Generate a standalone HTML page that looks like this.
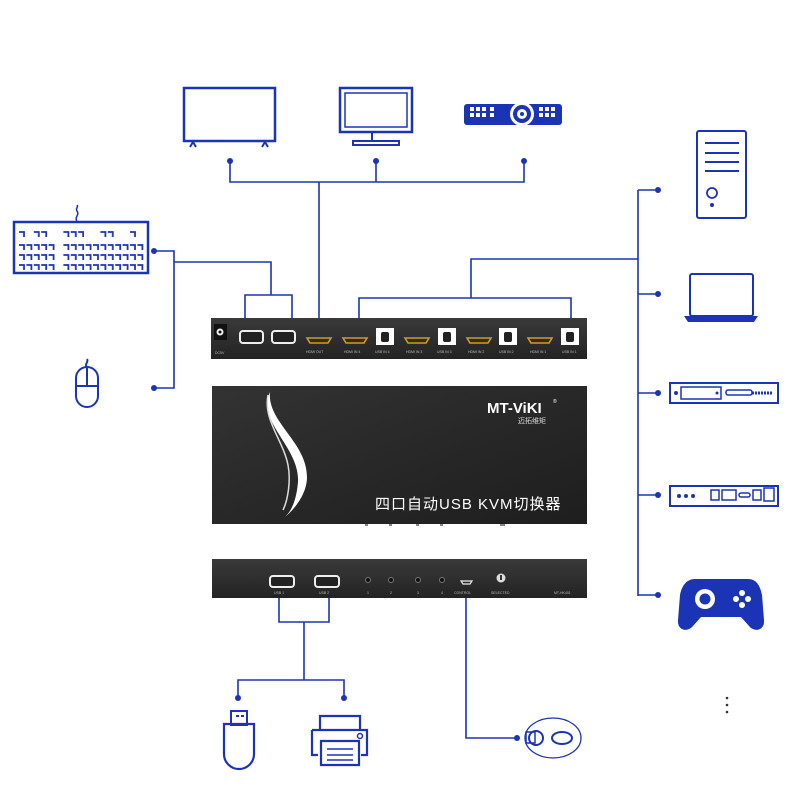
<!DOCTYPE html>
<html><head><meta charset="utf-8"><style>
html,body{margin:0;padding:0;background:#fff;}
svg{display:block;}
</style></head><body>
<svg width="800" height="800" viewBox="0 0 800 800" xmlns="http://www.w3.org/2000/svg">
<defs>
<linearGradient id="dk" x1="0" y1="0" x2="0" y2="1"><stop offset="0" stop-color="#3a3a3a"/><stop offset="1" stop-color="#232323"/></linearGradient>
<linearGradient id="dk2" x1="0" y1="0" x2="1" y2="1"><stop offset="0" stop-color="#333"/><stop offset="0.6" stop-color="#262626"/><stop offset="1" stop-color="#1e1e1e"/></linearGradient>
<pattern id="key" x="18" y="243" width="7.4" height="10" patternUnits="userSpaceOnUse">
<path d="M1 2h5v5" fill="none" stroke="#1b34b5" stroke-width="1.8"/>
</pattern>
<pattern id="key1" x="18" y="230" width="7.4" height="10" patternUnits="userSpaceOnUse">
<path d="M1 2h5v5" fill="none" stroke="#1b34b5" stroke-width="1.8"/>
</pattern>
</defs>
<g fill="none" stroke="#1b34b5" stroke-width="1.6">
<path d="M230 161V182H524V161M376 161V182M319 182V318"/>
<path d="M154 251H174V388H154M174 262H271V295M245 318V295H292V318"/>
<path d="M359 318V298H571V318M471 298V259H638M638 190V596M638 190H658M638 294H658M638 393H658M638 495H658M638 595H658"/>
<path d="M279 598V622H329V598M304 622V680M238 698V680H344V698M466 598V738H517"/>
</g>
<g fill="#1b34b5">
<circle cx="230" cy="161" r="3"/><circle cx="376" cy="161" r="3"/><circle cx="524" cy="161" r="3"/>
<circle cx="154" cy="251" r="3"/><circle cx="154" cy="388" r="3"/>
<circle cx="658" cy="190" r="3"/><circle cx="658" cy="294" r="3"/><circle cx="658" cy="393" r="3"/><circle cx="658" cy="495" r="3"/><circle cx="658" cy="595" r="3"/>
<circle cx="238" cy="698" r="3"/><circle cx="344" cy="698" r="3"/><circle cx="517" cy="738" r="3"/>
<circle cx="727" cy="698" r="1.3" fill="#333"/><circle cx="727" cy="705" r="1.3" fill="#333"/><circle cx="727" cy="712" r="1.3" fill="#333"/>
</g>
<g fill="none" stroke="#1b34b5" stroke-width="2.5">
<rect x="184" y="88" width="91" height="53"/>
<path d="M190 147l3-5 3 5M262 147l3-5 3 5" stroke-width="2"/>
<rect x="340" y="88" width="72" height="44"/><rect x="345" y="93" width="62" height="34" stroke-width="1.5"/>
<path d="M372 132v8M353 141h46v4h-46z" stroke-width="2"/>
<rect x="14" y="222" width="134" height="51"/>
<path d="M77 221c-3-4 3-6 0-10 -2-3 2-4 0-6" stroke-width="1.5"/>
<path d="M76 378a11 11 0 0 1 22 0v18a11 11 0 0 1-22 0zM76 386h22M87 367v19M87 367c-3-3 2-5 0-8" stroke-width="2"/>
<rect x="697" y="131" width="49" height="87" rx="2" stroke-width="2"/>
<path d="M705 143h34M705 153h34M705 162h34M705 171h34" stroke-width="2"/>
<circle cx="712" cy="193" r="5" stroke-width="1.8"/>
<rect x="690" y="274" width="63" height="42" rx="2" stroke-width="2"/>
<rect x="670" y="383" width="108" height="20" stroke-width="2"/>
<rect x="681" y="387" width="40" height="12" stroke-width="1.5"/>
<rect x="726" y="390" width="26" height="5" rx="2" stroke-width="1.5"/>
<rect x="670" y="486" width="108" height="20" stroke-width="2"/>
<rect x="711" y="490" width="8" height="10" stroke-width="1.5"/><rect x="722" y="490" width="14" height="10" stroke-width="1.5"/>
<rect x="739" y="493" width="11" height="4" rx="2" stroke-width="1.5"/><rect x="753" y="490" width="8" height="10" stroke-width="1.5"/><rect x="764" y="488" width="10" height="13" stroke-width="1.5"/>
<rect x="231" y="711" width="16" height="14" stroke-width="2"/>
<path d="M224 724h30v30a15 15 0 0 1-30 0z" stroke-width="2.2"/>
<path d="M320 729v-13h40v13M312 730h55v25h-6M318 755h-6v-25M321 741h38v24h-38z" stroke-width="2.2"/>
<path d="M327 749h26M327 755h26M327 760h26" stroke-width="1.6"/>
<circle cx="360" cy="736" r="2.5" stroke-width="1.5"/>
<ellipse cx="553" cy="738" rx="28" ry="20" stroke-width="1.3"/>
<ellipse cx="562" cy="738" rx="10" ry="6" stroke-width="2"/>
<rect x="526" y="732" width="9" height="11" stroke-width="1.5"/>
<circle cx="536" cy="738" r="7" stroke-width="2"/>
</g>
<!-- keyboard keys -->
<rect x="18" y="243" width="37" height="28" fill="url(#key)"/>
<rect x="62" y="243" width="82" height="28" fill="url(#key)"/>
<rect x="18" y="230" width="7" height="8" fill="url(#key1)"/>
<rect x="33" y="230" width="15" height="8" fill="url(#key1)"/>
<rect x="62" y="230" width="22" height="8" fill="url(#key1)"/>
<rect x="99" y="230" width="15" height="8" fill="url(#key1)"/>
<rect x="129" y="230" width="8" height="8" fill="url(#key1)"/>
<g fill="#1b34b5">
<rect x="464" y="104" width="98" height="21" rx="3"/>
<circle cx="522" cy="114" r="12" fill="#fff"/>
<circle cx="522" cy="114" r="9"/><circle cx="522" cy="114" r="5" fill="#fff"/><circle cx="522" cy="114" r="2"/>
<g fill="#fff"><rect x="470" y="107" width="4" height="4"/><rect x="476" y="107" width="4" height="4"/><rect x="482" y="107" width="4" height="4"/><rect x="490" y="107" width="4" height="4"/>
<rect x="470" y="113" width="4" height="4"/><rect x="476" y="113" width="4" height="4"/><rect x="482" y="113" width="4" height="4"/><rect x="490" y="113" width="4" height="4"/>
<rect x="539" y="107" width="4" height="4"/><rect x="545" y="107" width="4" height="4"/><rect x="551" y="107" width="4" height="4"/>
<rect x="539" y="113" width="4" height="4"/><rect x="545" y="113" width="4" height="4"/><rect x="551" y="113" width="4" height="4"/></g>
<circle cx="712" cy="205" r="2"/>
<path d="M684 316h74l-4 6h-66z"/>
<circle cx="676" cy="393" r="2"/><circle cx="717" cy="393" r="1.5"/>
<path d="M752 393h20" stroke="#1b34b5" stroke-width="3" stroke-dasharray="2 1"/>
<circle cx="679" cy="496" r="2"/><circle cx="686" cy="496" r="2"/><circle cx="693" cy="496" r="2"/>
<path d="M695 579h53c8 0 12 6 14 16l2 25c1 10-9 13-15 6l-8-9h-40l-8 9c-6 7-16 4-15-6l2-25c2-10 7-16 15-16z"/>
<circle cx="705" cy="599" r="10" fill="#fff"/><circle cx="705" cy="599" r="5.5"/>
<g fill="#fff"><circle cx="742" cy="593" r="3"/><circle cx="742" cy="605" r="3"/><circle cx="736" cy="599" r="3"/><circle cx="748" cy="599" r="3"/></g>
<rect x="236" y="715" width="3" height="2"/><rect x="241" y="715" width="3" height="2"/>
</g>
<!-- back panel -->
<rect x="211" y="318" width="376" height="41" fill="url(#dk)"/>
<rect x="214" y="324" width="13" height="16" fill="#111"/><circle cx="220" cy="332" r="3.5" fill="#eee"/><circle cx="220" cy="332" r="1.5" fill="#111"/>
<g fill="#222" stroke="#eee" stroke-width="2"><rect x="240" y="331" width="23" height="12" rx="3"/><rect x="272" y="331" width="23" height="12" rx="3"/></g>
<g fill="#3a2a10" stroke="#c89b3c" stroke-width="1.6">
<path d="M307 338h24l-3 5h-18z"/><path d="M343 338h24l-3 5h-18z"/><path d="M405 338h24l-3 5h-18z"/><path d="M467 338h24l-3 5h-18z"/><path d="M528 338h24l-3 5h-18z"/></g>
<g fill="#fff"><rect x="376" y="328" width="18" height="17"/><rect x="438" y="328" width="18" height="17"/><rect x="499" y="328" width="18" height="17"/><rect x="561" y="328" width="18" height="17"/></g>
<g fill="#222"><rect x="381" y="332" width="8" height="10" rx="2"/><rect x="443" y="332" width="8" height="10" rx="2"/><rect x="504" y="332" width="8" height="10" rx="2"/><rect x="566" y="332" width="8" height="10" rx="2"/></g>
<g fill="#bbb" font-family="Liberation Sans, sans-serif" font-size="3.5"><text x="215" y="354">DC5V</text><text x="306" y="353">HDMI OUT</text><text x="344" y="353">HDMI IN 4</text><text x="375" y="353">USB IN 4</text><text x="406" y="353">HDMI IN 3</text><text x="437" y="353">USB IN 3</text><text x="468" y="353">HDMI IN 2</text><text x="499" y="353">USB IN 2</text><text x="530" y="353">HDMI IN 1</text><text x="562" y="353">USB IN 1</text></g>
<!-- top body -->
<rect x="212" y="386" width="375" height="138" fill="url(#dk2)"/>
<path d="M270 392c-14 30 30 55 28 90c-2 22-8 30-13 35c12-10 22-25 22-40c0-35-40-55-37-85z" fill="#fff"/>
<path d="M268 395c-5 25 15 45 20 70c3 15 0 35-5 45" fill="none" stroke="#ddd" stroke-width="1.5"/>
<text x="487" y="413" fill="#fff" font-family="Liberation Sans, sans-serif" font-weight="bold" font-size="15">MT-ViKI</text>
<text x="553" y="403" fill="#fff" font-family="Liberation Sans, sans-serif" font-size="5">®</text>
<text x="518" y="423" fill="#ddd" font-family="Liberation Sans, 'Noto Sans CJK SC', sans-serif" font-size="7">迈拓维矩</text>
<text x="375" y="509" fill="#fff" font-family="Liberation Sans, 'Noto Sans CJK SC', sans-serif" font-size="15" letter-spacing="1">四口自动USB KVM切换器</text>
<g fill="#888"><rect x="365" y="524" width="3" height="2"/><rect x="389" y="524" width="3" height="2"/><rect x="416" y="524" width="3" height="2"/><rect x="440" y="524" width="3" height="2"/><rect x="500" y="524" width="5" height="2"/></g>
<!-- front panel -->
<rect x="212" y="559" width="375" height="39" fill="url(#dk)"/>
<g fill="#222" stroke="#eee" stroke-width="2"><rect x="270" y="576" width="24" height="11" rx="3"/><rect x="315" y="576" width="24" height="11" rx="3"/></g>
<g fill="#111" stroke="#777" stroke-width="1"><circle cx="368" cy="580" r="2.5"/><circle cx="391" cy="580" r="2.5"/><circle cx="418" cy="580" r="2.5"/><circle cx="442" cy="580" r="2.5"/></g>
<path d="M461 581h11l-2 3h-7z" fill="none" stroke="#eee" stroke-width="1.2"/>
<circle cx="501" cy="578" r="4.5" fill="#ddd"/><rect x="500" y="575" width="2" height="5" fill="#333"/>
<g fill="#bbb" font-family="Liberation Sans, sans-serif" font-size="3.5"><text x="274" y="594">USB 1</text><text x="319" y="594">USB 2</text><text x="367" y="594">1</text><text x="390" y="594">2</text><text x="417" y="594">3</text><text x="441" y="594">4</text><text x="454" y="594">CONTROL</text><text x="491" y="594">SELECTED</text><text x="554" y="594">MT-HK401</text></g>
</svg>
</body></html>
